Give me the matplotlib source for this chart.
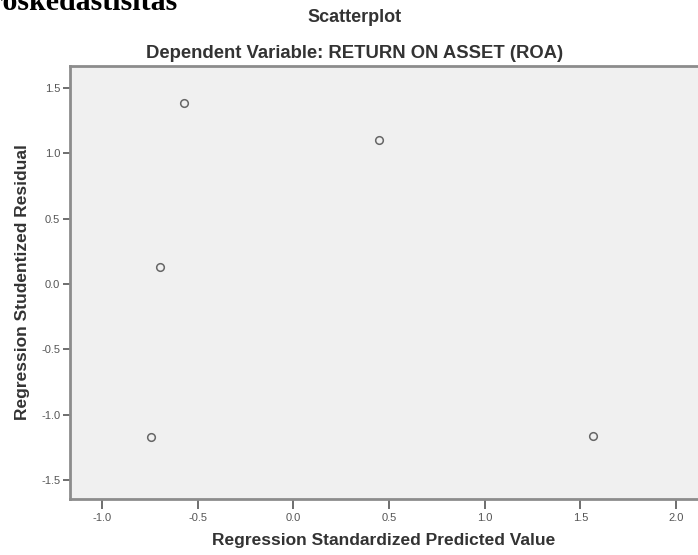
import matplotlib.pyplot as plt

# residual plot values
pred_std = [-0.571, 0.448, -0.697, -0.743, 1.567]
resid_stud = [1.385, 1.102, 0.130, -1.171, -1.163]

xticks = [-1.0, -0.5, 0.0, 0.5, 1.0, 1.5, 2.0]
yticks = [-1.5, -1.0, -0.5, 0.0, 0.5, 1.0, 1.5]

W, H = 698, 555
fig = plt.figure(figsize=(W / 100, H / 100), dpi=100)
ax = fig.add_axes([70 / W, 1 - 499 / H, 1 - 70 / W, (499 - 66) / H])
ax.set_facecolor('#f0f0f0')

ax.plot(pred_std, resid_stud, 'o', markerfacecolor='none',
        markeredgecolor='#666666', markersize=5.5, markeredgewidth=1.1)

ax.set_xlim(-1.167, 2.115)
ax.set_ylim(-1.645, 1.668)
ax.set_xticks(xticks)
ax.set_yticks(yticks)
ax.set_xticklabels([f'{t:.1f}' for t in xticks])
ax.set_yticklabels([f'{t:.1f}' for t in yticks])

for side in ['left', 'bottom', 'top']:
    ax.spines[side].set_color('#8c8c8c')
    ax.spines[side].set_linewidth(2)
ax.spines['right'].set_visible(False)

ax.tick_params(axis='x', length=7, width=1.2, color='#555555',
               labelsize=8, labelcolor='#555555', pad=3)
ax.tick_params(axis='y', length=5, width=1.2, color='#555555',
               labelsize=8, labelcolor='#555555', pad=2)
for lab in ax.get_xticklabels() + ax.get_yticklabels():
    lab.set_family('Liberation Sans')

ax.set_xlabel('Regression Standardized Predicted Value', fontsize=12.5,
              fontweight='bold', color='#333333', family='Liberation Sans',
              labelpad=7)
ax.set_ylabel('Regression Studentized Residual', fontsize=12.5,
              fontweight='bold', color='#333333', family='Liberation Sans',
              labelpad=8)

fig.text(355 / W, 1 - 17 / H, 'Scatterplot', ha='center', va='center',
         fontsize=13, fontweight='bold', color='#333333', family='Liberation Sans')
fig.text(355 / W, 1 - 53 / H, 'Dependent Variable: RETURN ON ASSET (ROA)',
         ha='center', va='center', fontsize=13.3, fontweight='bold',
         color='#333333', family='Liberation Sans')

# cropped heading from the document page
fig.text(178 / W, 1 - 10 / H, 'Heteroskedastisitas', ha='right', va='baseline',
         fontsize=21.5, fontweight='bold', color='black', family='Liberation Serif')

fig.savefig('out.png', dpi=100)
